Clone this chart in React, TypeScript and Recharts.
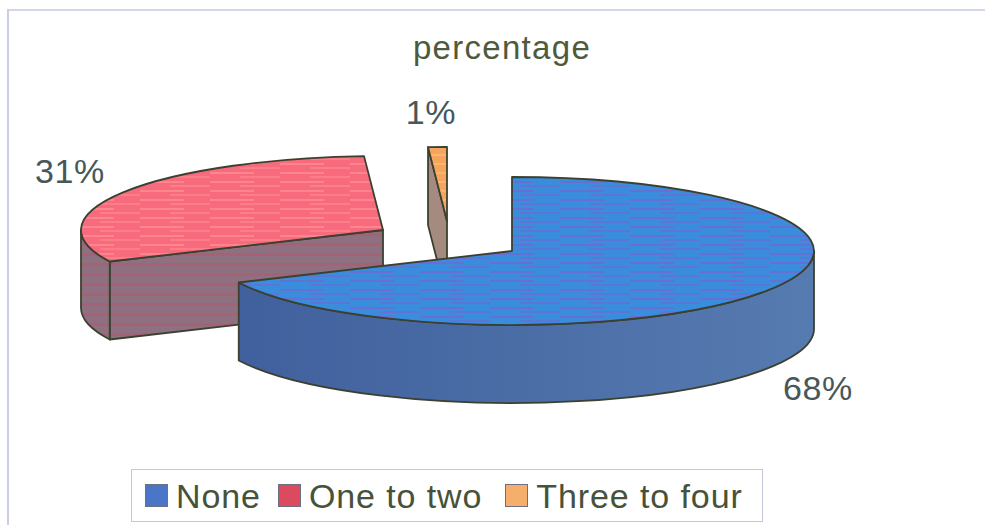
import React from "react";
import { PieChart, Pie, Legend } from "recharts";

// Survey shares, in the order they appear in the legend
const categories = ["None", "One to two", "Three to four"];
const percentages = [68, 31, 1];
const chartTitle = "percentage";

// Slices are painted back to front, so the large front slice goes last
const paintOrder = [1, 2, 0];
const sliceRows = paintOrder.map((i) => ({ name: categories[i], value: percentages[i] }));

// Clockwise angle from twelve o'clock at which the first painted slice begins
const leadShare = percentages[0] / percentages.reduce((a, b) => a + b, 0);
const firstAngle = 90 - leadShare * 360;

const FONT = "'Liberation Sans', Arial, sans-serif";
const TILT = 74 / 302;
const DEPTH = 78;

// How far each slice is pulled from the pie's centre, and where its label sits
const explode: Record<string, [number, number]> = {
  None: [0, 0],
  "One to two": [-129, -21],
  "Three to four": [-65, -30],
};
const labelShift: Record<string, [number, number]> = {
  None: [306, 137],
  "One to two": [-313, -59],
  "Three to four": [-16, -109],
};

const looks: Record<string, { top: string; stripe: string; wallA: string; wallB: string; wallStripe: string }> = {
  None: { top: "#3a8cdc", stripe: "#7466d0", wallA: "#3f5f9c", wallB: "#567bb0", wallStripe: "#4a6ba6" },
  "One to two": { top: "#f86a7e", stripe: "#ff8d90", wallA: "#8e7080", wallB: "#8e7080", wallStripe: "#b05a6e" },
  "Three to four": { top: "#f6a45e", stripe: "#fbbf70", wallA: "#a58a80", wallB: "#a58a80", wallStripe: "#a58a80" },
};
const swatches = ["#4a76c8", "#dc4a60", "#f6ae6c"];
const INK = "#3b4030";

type SliceProps = {
  cx: number;
  cy: number;
  outerRadius: number;
  startAngle: number;
  endAngle: number;
  name: string;
  index: number;
};

// A pie sector drawn as a flattened disc wedge with a visible rim
function TiltedSlice(props: SliceProps) {
  const { outerRadius: rx, startAngle, endAngle, name, index } = props;
  const ry = rx * TILT;
  const [dx, dy] = explode[name];
  const cx = props.cx + dx;
  const cy = props.cy + dy;
  let a = 90 - startAngle;
  let b = 90 - endAngle;
  while (a >= 360) {
    a -= 360;
    b -= 360;
  }
  const at = (deg: number, drop = 0) => {
    const r = (deg * Math.PI) / 180;
    return [cx + rx * Math.sin(r), cy - ry * Math.cos(r) + drop];
  };
  const [ax, ay] = at(a);
  const [bx, by] = at(b);
  const large = b - a > 180 ? 1 : 0;
  const look = looks[name];
  const topId = `slice-top-${index}`;
  const wallId = `slice-wall-${index}`;
  const rimId = `slice-rim-${index}`;

  const walls: string[] = [];
  if (Math.sin((a * Math.PI) / 180) < -1e-6) {
    walls.push(`M${cx},${cy} L${ax},${ay} L${ax},${ay + DEPTH} L${cx},${cy + DEPTH} Z`);
  }
  const from = Math.max(a, 90);
  const to = Math.min(b, 270);
  if (to > from) {
    const [fx, fy] = at(from);
    const [tx, ty] = at(to);
    const big = to - from > 180 ? 1 : 0;
    walls.push(
      `M${fx},${fy} A${rx},${ry} 0 ${big} 1 ${tx},${ty} L${tx},${ty + DEPTH} A${rx},${ry} 0 ${big} 0 ${fx},${fy + DEPTH} Z`
    );
  }

  return (
    <g>
      <defs>
        <pattern id={topId} width="70" height="9" patternUnits="userSpaceOnUse">
          <rect width="70" height="9" fill={look.top} />
          <rect y="1" width="44" height="2" fill={look.stripe} opacity="0.75" />
          <rect x="30" y="5" width="40" height="2" fill={look.stripe} opacity="0.6" />
        </pattern>
        <linearGradient id={rimId} gradientUnits="userSpaceOnUse" x1={props.cx - rx} x2={props.cx + rx} y1="0" y2="0">
          <stop offset="0" stopColor={look.wallA} />
          <stop offset="1" stopColor={look.wallB} />
        </linearGradient>
        <pattern id={wallId} width="60" height="10" patternUnits="userSpaceOnUse">
          <rect width="60" height="10" fill={look.wallA} />
          <rect y="3" width="60" height="3" fill={look.wallStripe} opacity="0.65" />
        </pattern>
      </defs>
      {walls.map((d) => (
        <path key={d} d={d} fill={name === "None" ? `url(#${rimId})` : `url(#${wallId})`} stroke={INK} strokeWidth={1.8} strokeLinejoin="round" />
      ))}
      <path
        d={`M${cx},${cy} L${ax},${ay} A${rx},${ry} 0 ${large} 1 ${bx},${by} Z`}
        fill={`url(#${topId})`}
        stroke={INK}
        strokeWidth={1.8}
        strokeLinejoin="round"
      />
    </g>
  );
}

// Percentage text beside each slice
function SliceLabel(props: { cx: number; cy: number; name: string; value: number }) {
  const [ex, ey] = explode[props.name];
  const [lx, ly] = labelShift[props.name];
  return (
    <text
      x={props.cx + ex + lx}
      y={props.cy + ey + ly}
      textAnchor="middle"
      dominantBaseline="central"
      fontFamily={FONT}
      fontSize={34}
      letterSpacing={0.6}
      fill="#47585a"
    >
      {`${props.value}%`}
    </text>
  );
}

// Boxed key along the bottom of the chart
function KeyBox() {
  const gaps = [0, 17, 23];
  return (
    <div
      style={{
        boxSizing: "border-box",
        width: 632,
        height: 53,
        border: "1.5px solid #c3c8dc",
        background: "#fff",
        display: "flex",
        alignItems: "center",
        paddingLeft: 13,
        fontFamily: FONT,
        fontSize: 34,
        letterSpacing: 0.9,
        lineHeight: "50px",
        color: "#47523a",
        whiteSpace: "nowrap",
      }}
    >
      {categories.map((c, i) => (
        <span key={c} style={{ display: "flex", alignItems: "center", marginLeft: gaps[i] }}>
          <span
            style={{
              display: "inline-block",
              width: 23,
              height: 23,
              marginRight: 8,
              background: swatches[i],
              border: "1.5px solid #6d7080",
              boxSizing: "border-box",
            }}
          />
          {c}
        </span>
      ))}
    </div>
  );
}

export default function App() {
  return (
    <div style={{ position: "absolute", left: 0, top: 0, width: 987, height: 525, background: "#fff" }}>
      <div style={{ position: "absolute", left: 7, top: 9, width: 978, height: 2, background: "#d3d7ea" }} />
      <div style={{ position: "absolute", left: 7, top: 9, width: 2, height: 516, background: "#c9cee6" }} />
      <PieChart width={987} height={525} margin={{ top: 0, right: 0, bottom: 0, left: 0 }}>
        <text x={502} y={47} textAnchor="middle" dominantBaseline="central" fontFamily={FONT} fontSize={33} letterSpacing={1.3} fill="#4d5a3c">
          {chartTitle}
        </text>
        <Pie
          data={sliceRows}
          dataKey="value"
          nameKey="name"
          cx={512}
          cy={251}
          outerRadius={302}
          startAngle={firstAngle}
          endAngle={firstAngle - 360}
          stroke="none"
          shape={(p: SliceProps) => <TiltedSlice {...p} />}
          label={(p: any) => <SliceLabel cx={p.cx} cy={p.cy} name={p.name} value={p.value} />}
          labelLine={false}
          isAnimationActive={false}
        />
        <Legend content={() => <KeyBox />} wrapperStyle={{ position: "absolute", left: 131, top: 469, width: 632, bottom: "auto" }} />
      </PieChart>
    </div>
  );
}
